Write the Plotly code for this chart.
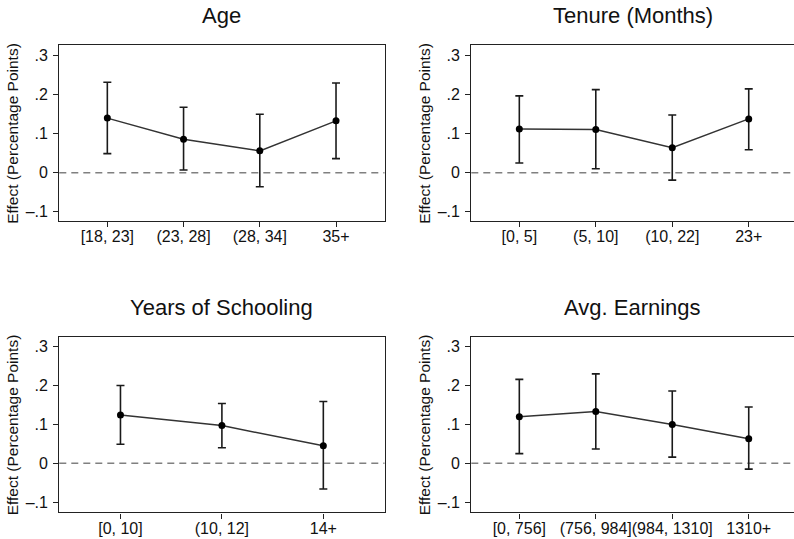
import plotly.graph_objects as go

# Subgroup estimates with 95% confidence bounds
age_labels = ["[18, 23]", "(23, 28]", "(28, 34]", "35+"]
age_est = [0.140, 0.086, 0.056, 0.133]
age_lo = [0.049, 0.007, -0.036, 0.036]
age_hi = [0.232, 0.168, 0.150, 0.230]

tenure_labels = ["[0, 5]", "(5, 10]", "(10, 22]", "23+"]
tenure_est = [0.112, 0.111, 0.064, 0.138]
tenure_lo = [0.025, 0.010, -0.019, 0.059]
tenure_hi = [0.197, 0.213, 0.148, 0.215]

school_labels = ["[0, 10]", "(10, 12]", "14+"]
school_est = [0.124, 0.097, 0.045]
school_lo = [0.049, 0.040, -0.066]
school_hi = [0.200, 0.154, 0.159]

earn_labels = ["[0, 756]", "(756, 984]", "(984, 1310]", "1310+"]
earn_est = [0.120, 0.133, 0.100, 0.063]
earn_lo = [0.025, 0.037, 0.016, -0.015]
earn_hi = [0.216, 0.230, 0.186, 0.145]

y_tickvals = [-0.1, 0, 0.1, 0.2, 0.3]
y_ticktext = ["\u2013.1", "0", ".1", ".2", ".3"]

panels = [
    ("Age", age_labels, age_est, age_lo, age_hi),
    ("Tenure (Months)", tenure_labels, tenure_est, tenure_lo, tenure_hi),
    ("Years of Schooling", school_labels, school_est, school_lo, school_hi),
    ("Avg. Earnings", earn_labels, earn_est, earn_lo, earn_hi),
]

W, H = 794, 539
FONT = "Liberation Sans, Arial, Helvetica, sans-serif"

# Panel boxes in pixels: (left, right, top, bottom)
boxes = [
    (59.3, 384.5, 45.0, 221.0),
    (471.3, 794.0, 45.0, 221.0),
    (59.3, 384.5, 336.7, 512.3),
    (471.3, 794.0, 336.7, 512.3),
]
x_ranges = [[-0.63, 3.636], [-0.628, 3.592], [-0.603, 2.603], [-0.628, 3.592]]
y_ranges = [[-0.1238, 0.3274], [-0.1238, 0.3274], [-0.126, 0.3257], [-0.126, 0.3257]]

fig = go.Figure()
annotations = []
shapes = []

for i, (title, labels, est, lo, hi) in enumerate(panels):
    n = i + 1
    xa = "x" if n == 1 else f"x{n}"
    ya = "y" if n == 1 else f"y{n}"
    xpos = list(range(len(labels)))
    l, r, t, b = boxes[i]

    fig.add_trace(go.Scatter(
        x=xpos, y=est, xaxis=xa, yaxis=ya, mode="lines+markers",
        line=dict(color="#333333", width=1.5),
        marker=dict(color="#000000", size=7),
        error_y=dict(
            type="data", symmetric=False,
            array=[h - e for h, e in zip(hi, est)],
            arrayminus=[e - lw for e, lw in zip(est, lo)],
            color="#1a1a1a", thickness=1.6, width=4,
        ),
        showlegend=False, hoverinfo="skip",
    ))

    right_col = i % 2 == 1
    xkey = "xaxis" if n == 1 else f"xaxis{n}"
    ykey = "yaxis" if n == 1 else f"yaxis{n}"
    fig.update_layout(**{
        xkey: dict(
            domain=[l / W, r / W], anchor=ya, range=x_ranges[i],
            tickvals=xpos, ticktext=labels, tickangle=0,
            ticks="outside", ticklen=5, tickwidth=1.2, tickcolor="#222",
            showline=True, linecolor="#222", linewidth=1.4, mirror=True,
            showgrid=False, zeroline=False, fixedrange=True,
            tickfont=dict(family=FONT, size=16, color="#111"),
            ticklabelstandoff=-4, automargin=False,
        ),
        ykey: dict(
            domain=[1 - b / H, 1 - t / H], anchor=xa, range=y_ranges[i],
            tickvals=y_tickvals, ticktext=y_ticktext,
            ticks="outside", ticklen=5, tickwidth=1.2, tickcolor="#222",
            showline=True, linecolor="#222", linewidth=1.4,
            mirror=False if right_col else True,
            showgrid=False, zeroline=False, fixedrange=True,
            tickfont=dict(family=FONT, size=16, color="#111"),
            ticklabelstandoff=2, automargin=False,
        ),
    })

    # dashed reference line at zero
    shapes.append(dict(
        type="line", xref=f"{xa} domain", yref=ya, x0=0, x1=1, y0=0, y1=0,
        line=dict(color="#808080", width=1.5, dash="7px,5px"), layer="below",
    ))

    # panel title
    annotations.append(dict(
        text=title, xref="paper", yref="paper",
        x=((l + min(r, l + 325.2)) / 2) / W, y=1 - (t - 29) / H,
        xanchor="center", yanchor="middle", showarrow=False,
        font=dict(family=FONT, size=22, color="#111"),
    ))
    # y-axis title
    annotations.append(dict(
        text="Effect (Percentage Points)", xref="paper", yref="paper",
        x=(l - 46.5) / W, y=1 - ((t + b) / 2) / H,
        xanchor="center", yanchor="middle", textangle=-90, showarrow=False,
        font=dict(family=FONT, size=15.5, color="#111"),
    ))

fig.update_layout(
    width=W, height=H,
    margin=dict(l=0, r=0, t=0, b=0),
    paper_bgcolor="white", plot_bgcolor="white",
    annotations=annotations, shapes=shapes,
)

fig.write_html("out.html")
